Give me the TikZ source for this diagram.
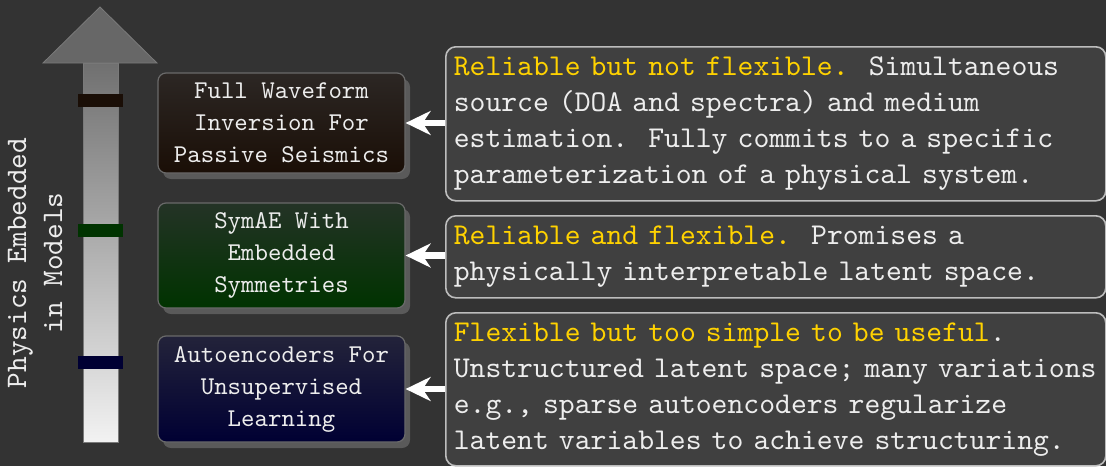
\documentclass[tikz,border=0pt]{standalone}
\usepackage{fontspec}
\setmonofont{lmmono10-regular.otf}
\usetikzlibrary{arrows.meta,shadows}

\definecolor{bg}{HTML}{333333}
\definecolor{panel}{HTML}{404040}
\definecolor{panelline}{HTML}{BDBDBD}
\definecolor{ink}{HTML}{EDEDED}
\definecolor{hl}{HTML}{FFD200}
\definecolor{methodline}{HTML}{6A6A6A}
\definecolor{shadowgray}{HTML}{5A5A5A}
\definecolor{headgray}{HTML}{676767}
\definecolor{shaftedge}{HTML}{7A7A7A}
\definecolor{shafttop}{HTML}{707070}
\definecolor{shaftbottom}{HTML}{F2F2F2}
\definecolor{fwitop}{HTML}{2C2724}
\definecolor{fwibot}{HTML}{1A0E06}
\definecolor{symtop}{HTML}{243326}
\definecolor{symbot}{HTML}{003300}
\definecolor{aetop}{HTML}{23233A}
\definecolor{aebot}{HTML}{000033}

\tikzset{
  method/.style={rounded corners=4pt, draw=methodline, line width=0.6pt,
    minimum width=123.5pt, align=center, text=ink,
    font=\fontsize{12.8}{16}\selectfont\ttfamily,
    drop shadow={shadow xshift=2.5pt, shadow yshift=-3pt, fill=shadowgray, opacity=1}},
  note/.style={rounded corners=5pt, draw=panelline, line width=0.8pt, fill=panel,
    text width=322pt, inner xsep=4pt, inner ysep=0pt, align=left, text=ink,
    font=\fontsize{15.1}{18}\selectfont\ttfamily, anchor=north west},
  link/.style={draw=white, line width=3.2pt,
    -{Stealth[length=12.5pt,width=12pt,inset=4pt]}},
}

\begin{document}
\begin{tikzpicture}[x=0.5pt, y=-0.5pt]
  % canvas
  \fill[bg] (0,0) rectangle (1106,466);
  \useasboundingbox (0,0) rectangle (1106,466);

  % scale arrow: shaded shaft and flat head
  \shade[top color=shafttop, bottom color=shaftbottom, draw=shaftedge, line width=0.4pt]
    (83,63) rectangle (118,442);
  \fill[headgray, draw=shaftedge, line width=0.4pt] (43,63) -- (100,7) -- (157,63) -- cycle;

  % level marks on the shaft
  \fill[fwibot] (78,94) rectangle (123,107);
  \fill[symbot] (78,224) rectangle (123,237);
  \fill[aebot] (78,356) rectangle (123,369);

  % axis label
  \node[rotate=90, align=center, text=ink, font=\fontsize{14.9}{18}\selectfont\ttfamily]
    (axislabel) at (35,263) {Physics Embedded\\in Models};

  % method boxes
  \node[method, top color=fwitop, bottom color=fwibot, minimum height=50pt]
    (m1) at (281.5,123) {Full Waveform\\Inversion For\\Passive Seismics};
  \node[method, top color=symtop, bottom color=symbot, minimum height=52.5pt]
    (m2) at (281.5,255.5) {SymAE With\\Embedded\\Symmetries};
  \node[method, top color=aetop, bottom color=aebot, minimum height=53pt]
    (m3) at (281.5,389) {Autoencoders For\\Unsupervised\\Learning};

  % description panels
  \node[note, minimum height=77pt] (nA) at (445,46)
    {\textcolor{hl}{Reliable but not flexible.}\ \ Simultaneous\\
     source (DOA and spectra) and medium\\
     estimation.\ \ Fully commits to a specific\\
     parameterization of a physical system.};
  \node[note, minimum height=41pt] (nB) at (445,215)
    {\textcolor{hl}{Reliable and flexible.}\ \ Promises a\\
     physically interpretable latent space.};
  \node[note, minimum height=76.5pt] (nC) at (445,312)
    {\textcolor{hl}{Flexible but too simple to be useful}.\\
     Unstructured latent space; many variations\\
     e.g., sparse autoencoders regularize\\
     latent variables to achieve structuring.};

  % connectors
  \draw[link] (m1.east -| nA.west) -- (m1.east);
  \draw[link] (m2.east -| nB.west) -- (m2.east);
  \draw[link] (m3.east -| nC.west) -- (m3.east);
\end{tikzpicture}
\end{document}
